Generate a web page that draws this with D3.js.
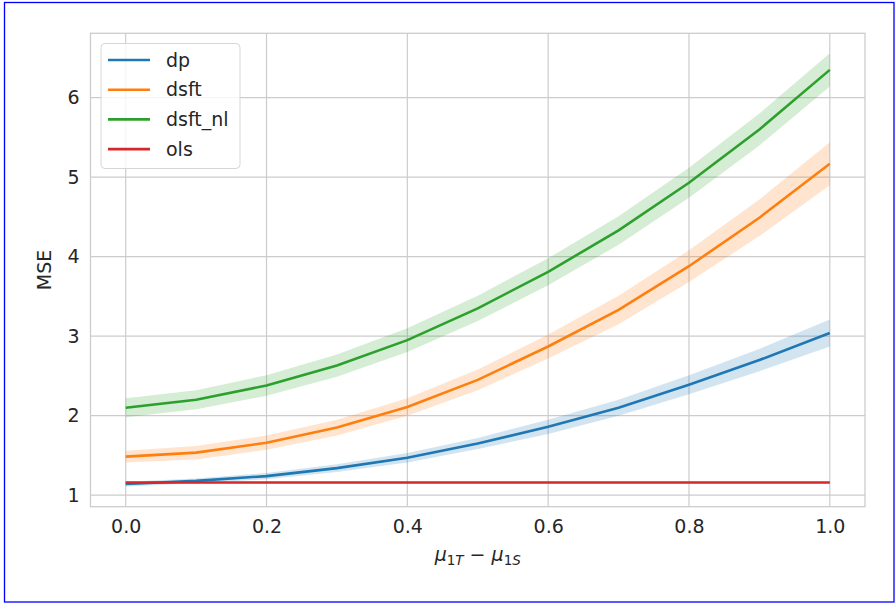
<!DOCTYPE html>
<html><head><meta charset="utf-8">
<script src="https://cdn.jsdelivr.net/npm/d3@7"></script>
<style>
html,body{margin:0;padding:0;background:#fff;}
svg{display:block;font-family:"DejaVu Sans",sans-serif;}
</style></head><body>
<svg id="c" width="896" height="604"></svg>
<script>
const xs = [0,0.1,0.2,0.3,0.4,0.5,0.6,0.7,0.8,0.9,1.0];
const seriesNames = ["dp","dsft","dsft_nl","ols"];
const colors = ["#1f77b4","#ff7f0e","#2ca02c","#d62728"];
const dp      = [1.14,1.18,1.24,1.34,1.47,1.65,1.86,2.10,2.39,2.70,3.04];
const dpLo    = [1.11,1.15,1.20,1.29,1.41,1.58,1.77,2.00,2.27,2.56,2.87];
const dpHi    = [1.17,1.21,1.28,1.39,1.53,1.72,1.95,2.20,2.51,2.84,3.21];
const dsft    = [1.485,1.535,1.66,1.85,2.11,2.45,2.87,3.33,3.88,4.49,5.17];
const dsftLo  = [1.41,1.45,1.57,1.75,2.00,2.32,2.72,3.15,3.68,4.26,4.90];
const dsftHi  = [1.56,1.62,1.75,1.95,2.22,2.58,3.02,3.51,4.08,4.72,5.44];
const dsftNl  = [2.10,2.20,2.38,2.63,2.95,3.35,3.81,4.33,4.93,5.60,6.35];
const dsftNlLo= [1.98,2.08,2.25,2.49,2.80,3.19,3.64,4.15,4.74,5.40,6.14];
const dsftNlHi= [2.22,2.32,2.51,2.77,3.10,3.51,3.98,4.51,5.12,5.80,6.56];
const ols     = [1.16,1.16,1.16,1.16,1.16,1.16,1.16,1.16,1.16,1.16,1.16];
const olsLo   = [1.15,1.15,1.15,1.15,1.15,1.15,1.15,1.15,1.15,1.15,1.15];
const olsHi   = [1.17,1.17,1.17,1.17,1.17,1.17,1.17,1.17,1.17,1.17,1.17];
const xTicks = [0.0,0.2,0.4,0.6,0.8,1.0];
const yTicks = [1,2,3,4,5,6];

const series = [
  {name:seriesNames[0], color:colors[0], mean:dp, lo:dpLo, hi:dpHi},
  {name:seriesNames[1], color:colors[1], mean:dsft, lo:dsftLo, hi:dsftHi},
  {name:seriesNames[2], color:colors[2], mean:dsftNl, lo:dsftNlLo, hi:dsftNlHi},
  {name:seriesNames[3], color:colors[3], mean:ols, lo:olsLo, hi:olsHi}
];

const svg = d3.select("#c");
const L=90.5, R=865, T=33.3, B=506.7;
const x = d3.scaleLinear().domain([-0.05,1.05]).range([L,R]);
const y = d3.scaleLinear().domain([0.855,6.81]).range([B,T]);
const txt = "#262626", grid = "#cccccc";
const FS = "19px";

// border
svg.append("rect").attr("x",4.5).attr("y",2.5).attr("width",889.5).attr("height",599.5)
  .attr("fill","none").attr("stroke","#0000ff").attr("stroke-width",1.3);

// grid
const g = svg.append("g");
g.selectAll(".gx").data(xTicks).join("line").attr("x1",d=>x(d)).attr("x2",d=>x(d))
  .attr("y1",T).attr("y2",B).attr("stroke",grid).attr("stroke-width",1.2);
g.selectAll(".gy").data(yTicks).join("line").attr("y1",d=>y(d)).attr("y2",d=>y(d))
  .attr("x1",L).attr("x2",R).attr("stroke",grid).attr("stroke-width",1.2);

// axes via d3 axis (labels only)
const xAxis = d3.axisBottom(x).tickValues(xTicks).tickFormat(d3.format(".1f")).tickSize(0).tickPadding(13);
const yAxis = d3.axisLeft(y).tickValues(yTicks).tickFormat(d3.format("d")).tickSize(0).tickPadding(11);
const gx = svg.append("g").attr("transform",`translate(0,${B})`).call(xAxis);
const gy = svg.append("g").attr("transform",`translate(${L},0)`).call(yAxis);
[gx,gy].forEach(a=>{
  a.select(".domain").remove();
  a.selectAll("text").attr("fill",txt).style("font-size",FS).style("font-family","DejaVu Sans");
});

// data
const plot = svg.append("g");
series.forEach(s=>{
  const idx = d3.range(xs.length);
  plot.append("path").datum(idx)
    .attr("d", d3.area().x(i=>x(xs[i])).y0(i=>y(s.lo[i])).y1(i=>y(s.hi[i])))
    .attr("fill", s.color).attr("fill-opacity",0.2).attr("stroke","none");
  plot.append("path").datum(idx)
    .attr("d", d3.line().x(i=>x(xs[i])).y(i=>y(s.mean[i])))
    .attr("fill","none").attr("stroke", s.color).attr("stroke-width",2.6);
});

// spines
svg.append("rect").attr("x",L).attr("y",T).attr("width",R-L).attr("height",B-T)
  .attr("fill","none").attr("stroke",grid).attr("stroke-width",1.3);

// y label
svg.append("text").attr("transform",`translate(51,${(T+B)/2}) rotate(-90)`)
  .attr("text-anchor","middle").attr("fill",txt).style("font-size",FS).text("MSE");

// x label (math)
const xl = svg.append("text").attr("x",(L+R)/2).attr("y",561).attr("text-anchor","middle")
  .attr("fill",txt).style("font-size",FS);
xl.append("tspan").style("font-style","italic").text("μ");
xl.append("tspan").attr("dy",4).style("font-size","13.5px").text("1");
xl.append("tspan").style("font-size","13.5px").style("font-style","italic").text("T");
xl.append("tspan").attr("dy",-4).text(" − ");
xl.append("tspan").style("font-style","italic").text("μ");
xl.append("tspan").attr("dy",4).style("font-size","13.5px").text("1");
xl.append("tspan").style("font-size","13.5px").style("font-style","italic").text("S");

// legend
const lg = svg.append("g");
lg.append("rect").attr("x",101).attr("y",43.5).attr("width",139).attr("height",125).attr("rx",4)
  .attr("fill","#fff").attr("fill-opacity",0.8).attr("stroke","#d6d6d6").attr("stroke-width",1);
series.forEach((s,i)=>{
  const yy = 60 + i*29.7;
  lg.append("line").attr("x1",108).attr("x2",150).attr("y1",yy).attr("y2",yy)
    .attr("stroke",s.color).attr("stroke-width",2.6);
  lg.append("text").attr("x",166).attr("y",yy).attr("dy","0.35em").attr("fill",txt)
    .style("font-size",FS).text(s.name);
});
</script></body></html>
